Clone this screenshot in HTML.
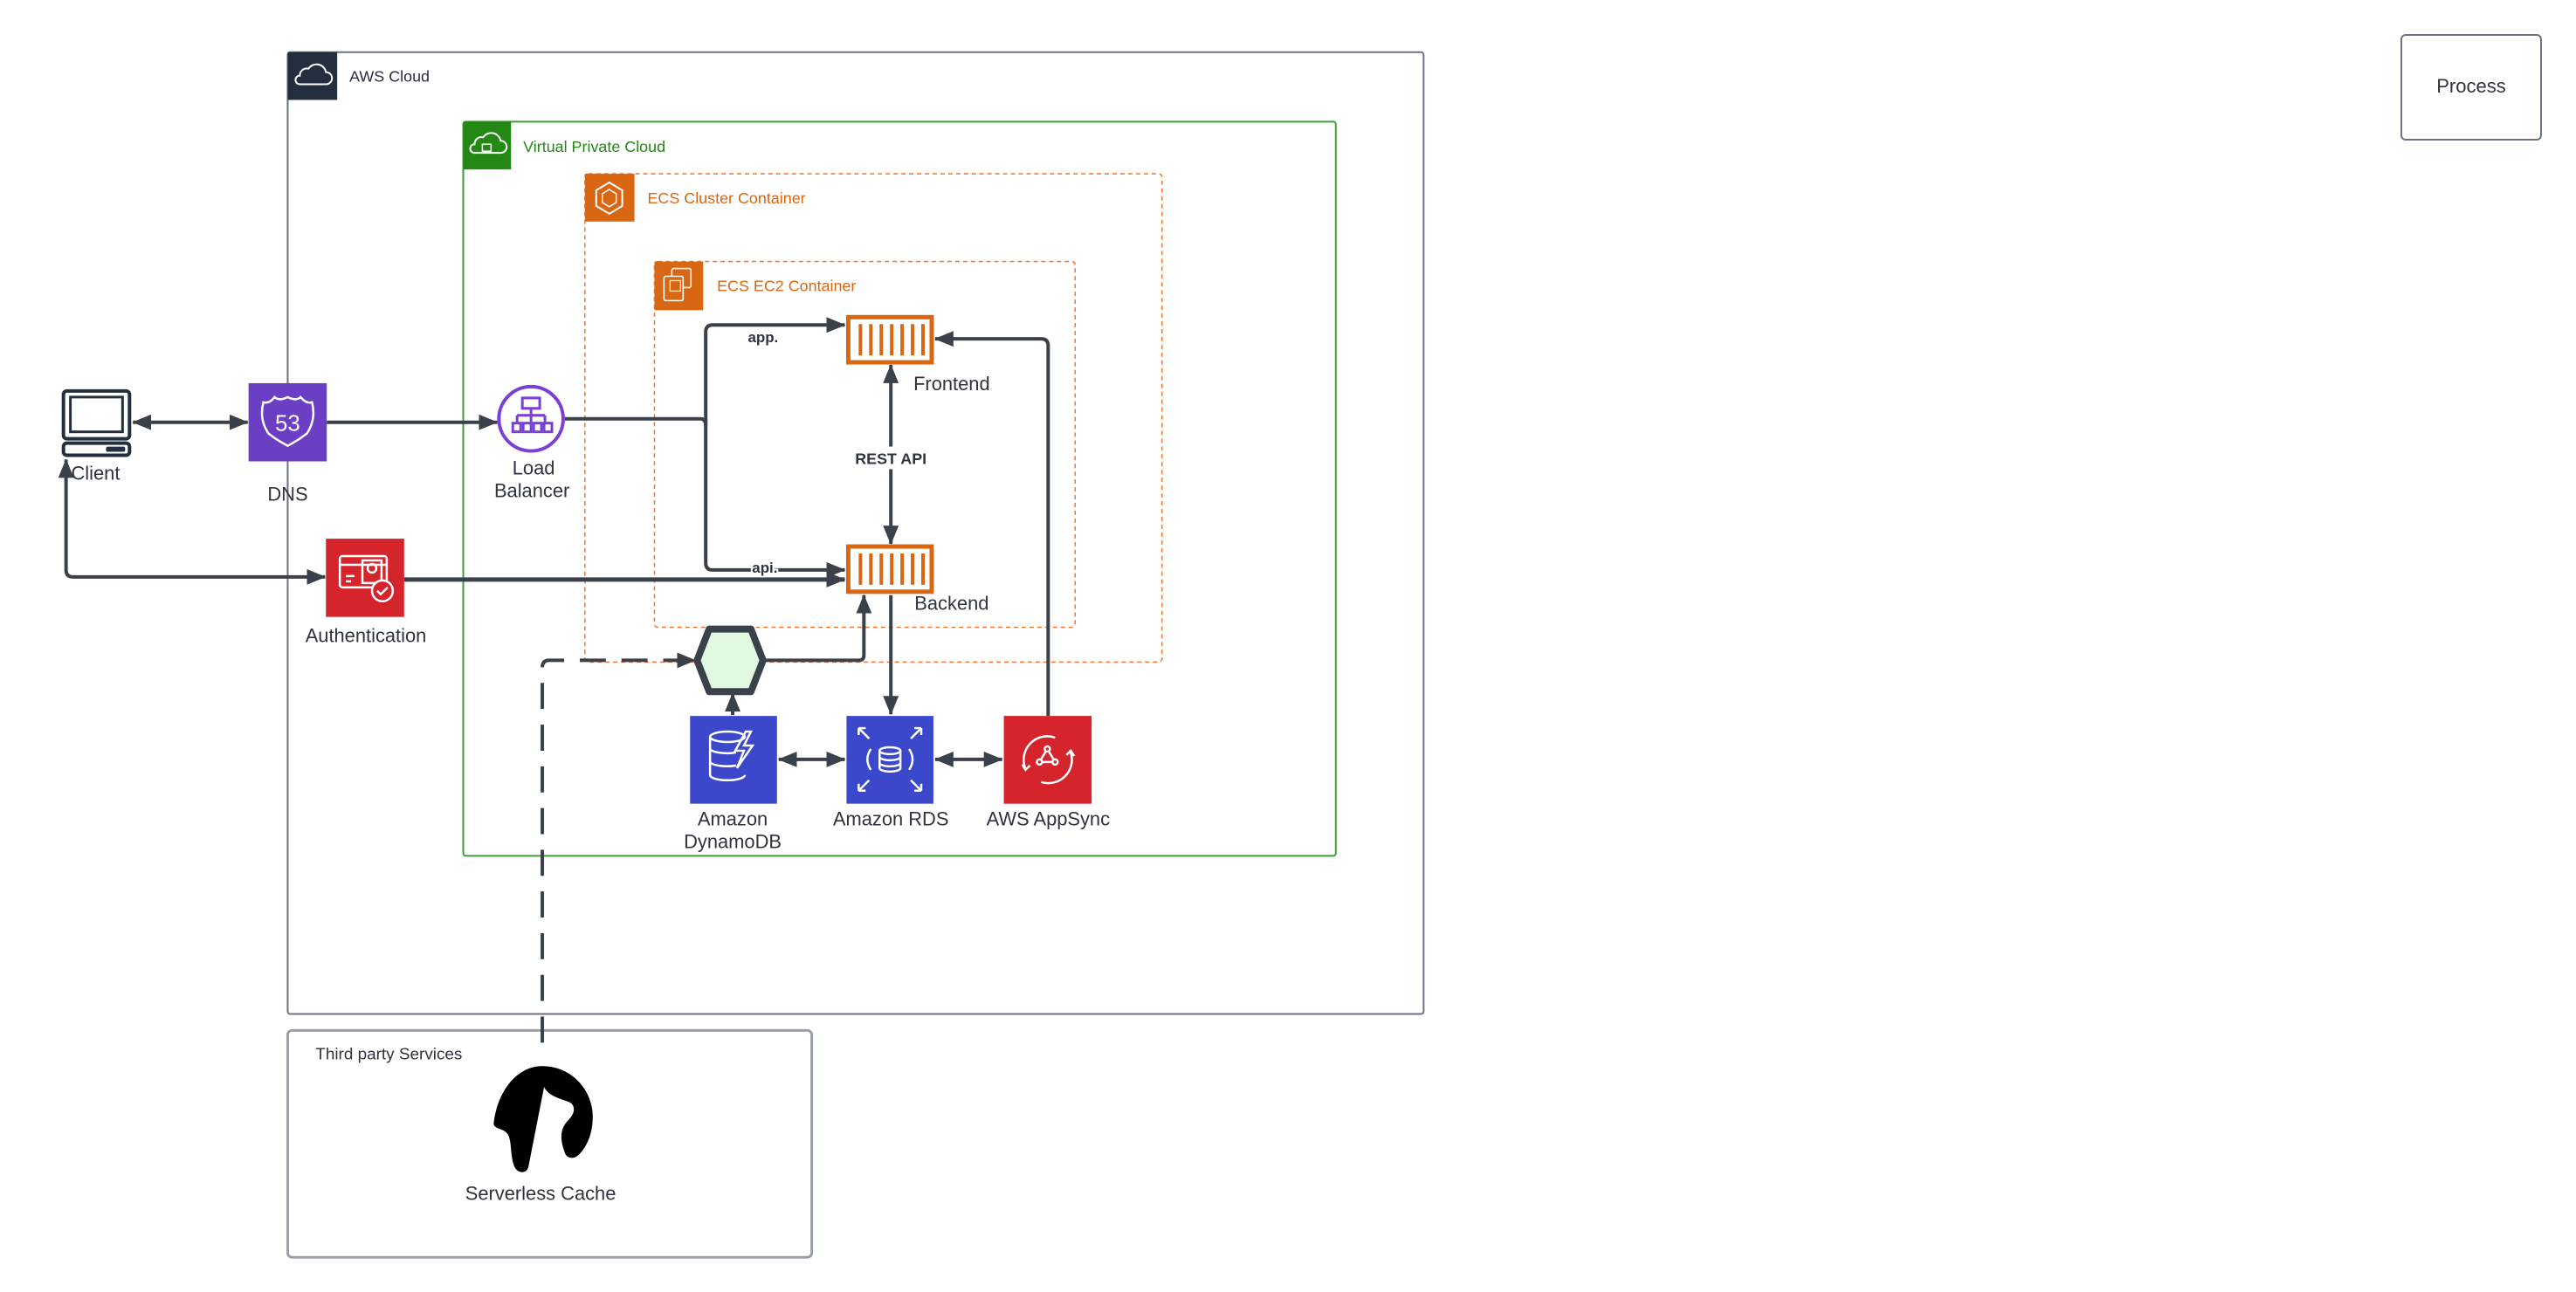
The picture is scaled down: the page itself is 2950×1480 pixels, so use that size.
<!DOCTYPE html>
<html><head><meta charset="utf-8"><style>
html,body{margin:0;padding:0;background:#fff;}
svg{display:block;font-family:"Liberation Sans",sans-serif;}
</style></head><body>
<svg width="2950" height="1480" viewBox="0 0 2950 1480" xmlns="http://www.w3.org/2000/svg">
<defs>
<marker id="ab" markerWidth="22" markerHeight="18" refX="21" refY="9" orient="auto-start-reverse" markerUnits="userSpaceOnUse" viewBox="0 0 22 18"><path d="M0,0 L22,9 L0,18 z" fill="#3a414a"/></marker>
</defs>
<rect width="2950" height="1480" fill="#fff"/>

<!-- Process -->
<rect x="2750" y="40" width="160" height="120" rx="5" fill="none" stroke="#6b7280" stroke-width="2"/>
<text x="2830" y="106" font-size="22" fill="#2d3440" text-anchor="middle">Process</text>

<g transform="scale(0.9953)">
<!-- AWS Cloud -->
<rect x="331" y="60" width="1307" height="1107" rx="3" fill="none" stroke="#6b7280" stroke-width="2"/>
<rect x="331" y="60" width="57" height="55" fill="#232f3e"/>
<path d="M345,97 h30 a7,7 0 0 0 0,-14 a11,11 0 0 0 -20,-4 a8,8 0 0 0 -10,8 a5,5 0 0 0 0,10z" fill="none" stroke="#fff" stroke-width="2"/>
<text x="402" y="94" font-size="18" fill="#232f3e">AWS Cloud</text>

<!-- VPC -->
<rect x="533" y="140" width="1004" height="845" rx="3" fill="none" stroke="#3f9c35" stroke-width="2"/>
<rect x="533" y="140" width="55" height="55" fill="#248814"/>
<path d="M546,176 h30 a7,7 0 0 0 0,-14 a11,11 0 0 0 -20,-4 a8,8 0 0 0 -10,8 a5,5 0 0 0 0,10z" fill="none" stroke="#fff" stroke-width="2"/>
<rect x="555" y="166" width="10" height="8" fill="none" stroke="#fff" stroke-width="1.5"/>
<text x="602" y="175" font-size="18" fill="#248814">Virtual Private Cloud</text>

<!-- ECS Cluster -->
<rect x="673" y="200" width="664" height="562" rx="4" fill="none" stroke="#ed7f3a" stroke-width="1.6" stroke-dasharray="5,4"/>
<rect x="673" y="200" width="57" height="55" fill="#d86613"/>
<path d="M701,210 l15,9 v18 l-15,9 l-15,-9 v-18z" fill="none" stroke="#fff" stroke-width="2"/>
<path d="M701,218 l8,5 v10 l-8,5 l-8,-5 v-10z" fill="none" stroke="#fff" stroke-width="1.5"/>
<text x="745" y="234" font-size="18" fill="#d86613">ECS Cluster Container</text>

<!-- EC2 container -->
<rect x="753" y="301" width="484" height="421" rx="4" fill="none" stroke="#ed7f3a" stroke-width="1.6" stroke-dasharray="5,4"/>
<rect x="753" y="301" width="56" height="56" fill="#d86613"/>
<rect x="773" y="309" width="22" height="22" rx="2" fill="none" stroke="#fff" stroke-width="1.6"/>
<rect x="764" y="318" width="22" height="28" rx="2" fill="#d86613" stroke="#fff" stroke-width="1.6"/>
<rect x="771" y="323" width="12" height="12" fill="none" stroke="#fff" stroke-width="1.3"/>
<text x="825" y="335" font-size="18" fill="#d86613">ECS EC2 Container</text>

<!-- Third party -->
<rect x="331" y="1186" width="603" height="261" rx="5" fill="none" stroke="#9aa0aa" stroke-width="3"/>
<text x="363" y="1219" font-size="19" fill="#2d3440">Third party Services</text>

<!-- connectors -->
<g fill="none" stroke="#3a414a" stroke-width="4">
<line x1="153" y1="486" x2="285" y2="486" marker-start="url(#ab)" marker-end="url(#ab)"/>
<line x1="376" y1="486" x2="572" y2="486" marker-end="url(#ab)"/>
<path d="M650,482 H806 q6,0 6,8 V382 q0,-8 8,-8 H972" marker-end="url(#ab)"/>
<path d="M812,482 V648 q0,8 8,8 H972" marker-end="url(#ab)"/>
<path d="M76,529 V656 q0,8 8,8 H374" marker-start="url(#ab)" marker-end="url(#ab)"/>
<line x1="465" y1="667" x2="972" y2="667" stroke-width="5" marker-end="url(#ab)"/>
<line x1="1025" y1="420" x2="1025" y2="626" marker-start="url(#ab)" marker-end="url(#ab)"/>
<path d="M878,760 H988 q6,0 6,-6 V685" marker-end="url(#ab)"/>
<line x1="1025" y1="685" x2="1025" y2="822" marker-end="url(#ab)"/>
<line x1="843" y1="823" x2="843" y2="798" marker-end="url(#ab)"/>
<line x1="896" y1="874" x2="972" y2="874" marker-start="url(#ab)" marker-end="url(#ab)"/>
<line x1="1076" y1="874" x2="1153" y2="874" marker-start="url(#ab)" marker-end="url(#ab)"/>
<path d="M1206,824 V398 q0,-8 -8,-8 H1076" marker-end="url(#ab)"/>
<path d="M624,1200 V768 q0,-8 8,-8 H800" stroke-dasharray="30,18" marker-end="url(#ab)"/>
</g>
<rect x="1003" y="514" width="44" height="26" fill="#fff"/>
<text x="1025" y="534" font-size="18" font-weight="bold" fill="#2d3440" text-anchor="middle">REST API</text>
<text x="878" y="394" font-size="17" font-weight="bold" fill="#2d3440" text-anchor="middle" stroke="#fff" stroke-width="4" paint-order="stroke">app.</text>
<text x="880" y="659" font-size="17" font-weight="bold" fill="#2d3440" text-anchor="middle" stroke="#fff" stroke-width="4" paint-order="stroke">api.</text>

<!-- Client -->
<rect x="73" y="450" width="76" height="55" rx="4" fill="none" stroke="#232f3e" stroke-width="4"/>
<rect x="81" y="457" width="60" height="40" fill="none" stroke="#232f3e" stroke-width="3"/>
<rect x="73" y="510" width="76" height="14" rx="4" fill="none" stroke="#232f3e" stroke-width="4"/>
<rect x="122" y="514" width="22" height="6" rx="2" fill="#232f3e"/>
<text x="110" y="552" font-size="22" fill="#2d3440" text-anchor="middle">Client</text>

<!-- DNS -->
<rect x="286" y="441" width="90" height="90" fill="#6a3fc4"/>
<path d="M303,463 q7,2 13,-6 q5,5 15,0 q10,5 15,0 q6,8 13,6 q5,20 -6,36 q-10,8 -22,14 q-12,-6 -22,-14 q-11,-16 -6,-36z" fill="none" stroke="#fff" stroke-width="2.5"/>
<text x="331" y="496" font-size="26" fill="#fff" text-anchor="middle">53</text>
<text x="331" y="576" font-size="22" fill="#2d3440" text-anchor="middle">DNS</text>

<!-- Load Balancer -->
<circle cx="611" cy="482" r="37" fill="#fff" stroke="#7b3fd6" stroke-width="4"/>
<g fill="none" stroke="#7b3fd6" stroke-width="3">
<rect x="601" y="458" width="20" height="12"/>
<path d="M611,470 v8 M595,478 h32 M595,478 v8 M627,478 v8 M611,478 v8"/>
<rect x="590" y="487" width="9" height="10"/><rect x="602" y="487" width="9" height="10"/><rect x="614" y="487" width="9" height="10"/><rect x="626" y="487" width="9" height="10"/>
</g>
<text x="614" y="546" font-size="22" fill="#2d3440" text-anchor="middle">Load</text>
<text x="612" y="572" font-size="22" fill="#2d3440" text-anchor="middle">Balancer</text>

<!-- Authentication -->
<rect x="375" y="620" width="90" height="90" fill="#d6242d"/>
<g fill="none" stroke="#fff" stroke-width="2.5">
<rect x="391" y="640" width="54" height="36" rx="3"/>
<path d="M391,650 h54"/>
<rect x="417" y="645" width="22" height="26"/>
<circle cx="428" cy="654" r="5"/>
<path d="M398,663 h10 M398,669 h6"/>
<circle cx="440" cy="680" r="12" fill="#d6242d"/>
<path d="M434,680 l4,4 l8,-8"/>
</g>
<text x="421" y="739" font-size="22" fill="#2d3440" text-anchor="middle">Authentication</text>

<!-- Frontend -->
<rect x="976" y="365" width="96" height="52" fill="#fff" stroke="#d86613" stroke-width="5"/>
<g stroke="#d86613" stroke-width="4"><path d="M990,373 v36 M1002,373 v36 M1014,373 v36 M1026,373 v36 M1038,373 v36 M1050,373 v36 M1062,373 v36"/></g>
<text x="1095" y="449" font-size="22" fill="#2d3440" text-anchor="middle">Frontend</text>

<!-- Backend -->
<rect x="976" y="629" width="96" height="52" fill="#fff" stroke="#d86613" stroke-width="5"/>
<g stroke="#d86613" stroke-width="4"><path d="M990,637 v36 M1002,637 v36 M1014,637 v36 M1026,637 v36 M1038,637 v36 M1050,637 v36 M1062,637 v36"/></g>
<text x="1095" y="702" font-size="22" fill="#2d3440" text-anchor="middle">Backend</text>

<!-- Hexagon -->
<path d="M816,724 h48 l14,36 l-14,36 h-48 l-14,-36z" fill="#e1f9e1" stroke="#3a414a" stroke-width="8" stroke-linejoin="round"/>

<!-- DynamoDB -->
<rect x="794" y="824" width="100" height="101" fill="#3b48cc"/>
<g fill="none" stroke="#fff" stroke-width="2.5">
<ellipse cx="837" cy="848" rx="20" ry="6"/>
<path d="M817,848 v44 a20,6 0 0 0 40,0 M817,862 a20,6 0 0 0 30,4 M817,877 a20,6 0 0 0 30,4"/>
<path d="M858,842 l-12,22 h10 l-8,20 l18,-26 h-10 l8,-16z"/>
</g>
<text x="843" y="950" font-size="22" fill="#2d3440" text-anchor="middle">Amazon</text>
<text x="843" y="976" font-size="22" fill="#2d3440" text-anchor="middle">DynamoDB</text>

<!-- RDS -->
<rect x="974" y="824" width="100" height="101" fill="#3b48cc"/>
<g fill="none" stroke="#fff" stroke-width="2.5">
<ellipse cx="1024" cy="864" rx="12" ry="4"/>
<path d="M1012,864 v20 a12,4 0 0 0 24,0 v-20 M1012,871 a12,4 0 0 0 24,0 M1012,878 a12,4 0 0 0 24,0"/>
<path d="M1002,862 q-8,12 0,24 M1046,862 q8,12 0,24"/>
<path d="M988,838 l12,12 M988,838 h8 M988,838 v8 M1060,838 l-12,12 M1060,838 h-8 M1060,838 v8 M988,910 l12,-12 M988,910 h8 M988,910 v-8 M1060,910 l-12,-12 M1060,910 h-8 M1060,910 v-8"/>
</g>
<text x="1025" y="950" font-size="22" fill="#2d3440" text-anchor="middle">Amazon RDS</text>

<!-- AppSync -->
<rect x="1155" y="824" width="101" height="101" fill="#d6242d"/>
<g fill="none" stroke="#fff" stroke-width="2.5">
<path d="M1180,885 a27,27 0 0 1 34,-36 M1232,866 a27,27 0 0 1 -34,34"/>
<path d="M1176,880 l4,6 l5,-5 M1236,870 l-4,-6 l-5,5"/>
<path d="M1205,862 l-9,15 h18z"/>
<circle cx="1205" cy="862" r="3" fill="#d6242d"/><circle cx="1196" cy="877" r="3" fill="#d6242d"/><circle cx="1214" cy="877" r="3" fill="#d6242d"/>
</g>
<text x="1206" y="950" font-size="22" fill="#2d3440" text-anchor="middle">AWS AppSync</text>

<!-- Serverless cache icon -->
<path d="M624,1227 c34,0 58,28 58,58 c0,22 -8,36 -16,44 c-6,6 -14,4 -16,-2 c-6,-16 -6,-28 4,-38 c8,-8 8,-16 2,-20 c-8,-4 -24,-6 -30,-18 l-18,92 c-2,8 -12,8 -16,0 c-6,-14 -2,-34 -10,-40 c-4,-4 -14,-4 -14,-10 c4,-36 26,-66 56,-66z" fill="#000"/>
<circle cx="638" cy="1266" r="3" fill="#fff"/>
<text x="622" y="1381" font-size="22" fill="#2d3440" text-anchor="middle">Serverless Cache</text>
</g>
</svg>
</body></html>
